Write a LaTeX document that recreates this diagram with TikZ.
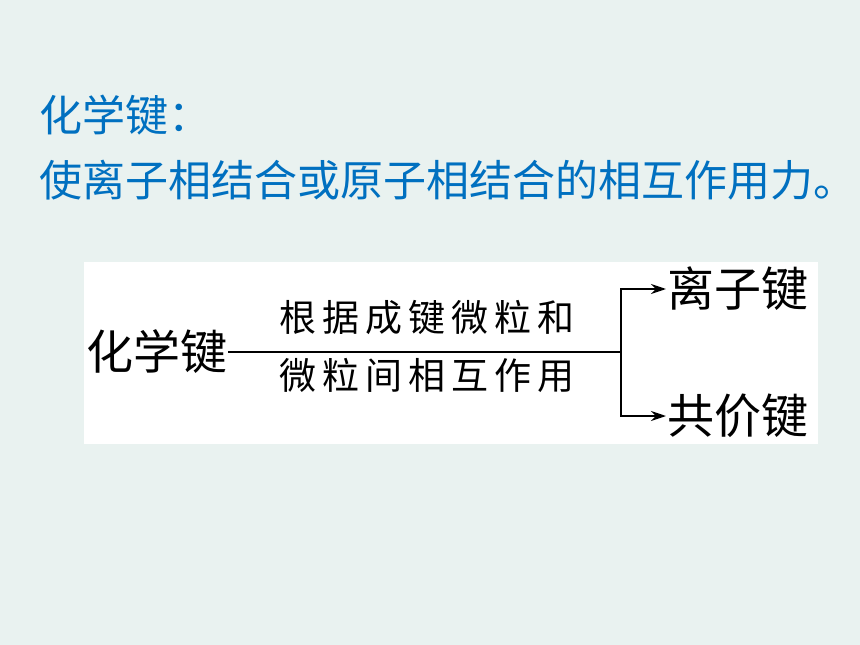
\documentclass[tikz,border=0pt]{standalone}
\usepackage{fontspec}
\usepackage{xcolor}
\newfontfamily\cjk{Noto Sans CJK SC}
\newfontfamily\cjkspaced[LetterSpace=16]{Noto Sans CJK SC}
\definecolor{colorBack}{RGB}{233,242,240}
\definecolor{colorTitle}{RGB}{0,112,192}
\usetikzlibrary{arrows.meta, positioning}
\tikzset{title/.style={anchor=west, inner sep=0pt, text=colorTitle, font=\cjk\fontsize{43bp}{43bp}\selectfont}}
\tikzset{term/.style={inner sep=0pt, font=\cjk\fontsize{47bp}{47bp}\selectfont}}
\tikzset{rule/.style={inner sep=0pt, font=\cjkspaced\fontsize{37bp}{37bp}\selectfont}}

\begin{document}
\begin{tikzpicture}[x=1bp, y=-1bp, >={Stealth[length=15bp,width=10bp]}, line width=2bp]
\useasboundingbox (0,0) rectangle (860,645);
\fill[colorBack] (0,0) rectangle (860,645);
\fill[white] (84,262) rectangle (818,444);
\node[title] (head) at (38,115) {化学键：};
\node[title] (def) at (38,180) {使离子相结合或原子相结合的相互作用力。};
\node[term, anchor=east] (bond) at (228,352) {化学键};
\node[term, anchor=west] (ionic) at (666,289) {离子键};
\node[term, anchor=west] (covalent) at (666,416) {共价键};
\coordinate (split) at (621,352);
\node[rule] (upper) at (427,318) {根据成键微粒和};
\node[rule] (lower) at (427,375) {微粒间相互作用};
\draw (bond.east) -- (split);
\draw[->] (split) |- (ionic.west);
\draw[->] (split) |- (covalent.west);
\end{tikzpicture}
\end{document}
